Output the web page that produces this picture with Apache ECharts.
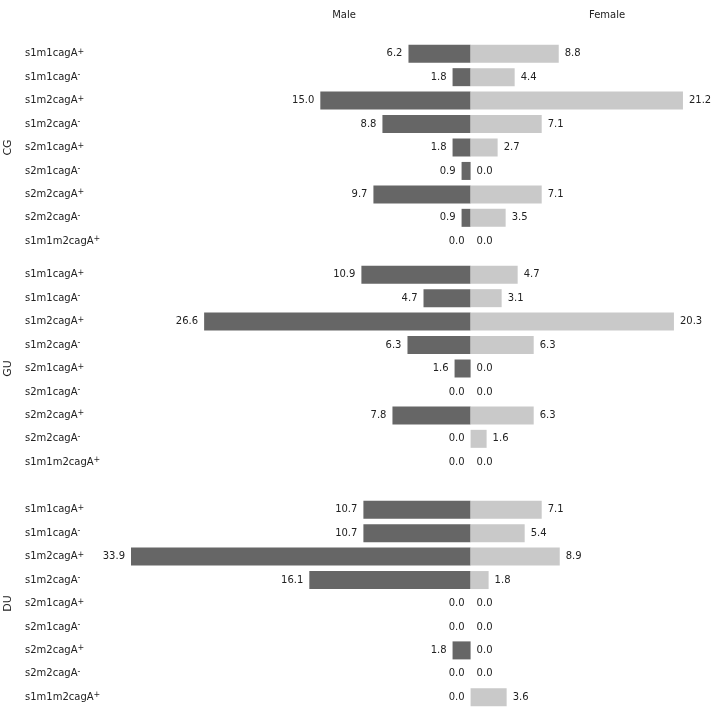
<!DOCTYPE html>
<html>
<head>
<meta charset="utf-8">
<script src="https://cdn.jsdelivr.net/npm/echarts@6/dist/echarts.min.js"></script>
<style>
  html, body { margin: 0; padding: 0; background: #fff; }
  #main { width: 711px; height: 709px; }
</style>
</head>
<body>
<div id="main"></div>
<script>
// genotype rows (same in each group), sup = superscript sign
var genotypes = ['s1m1cagA', 's1m1cagA', 's1m2cagA', 's1m2cagA', 's2m1cagA', 's2m1cagA', 's2m2cagA', 's2m2cagA', 's1m1m2cagA'];
var signs = ['+', '-', '+', '-', '+', '-', '+', '-', '+'];
var groups = ['CG', 'GU', 'DU'];

var cgMale   = [6.2, 1.8, 15.0, 8.8, 1.8, 0.9, 9.7, 0.9, 0.0];
var cgFemale = [8.8, 4.4, 21.2, 7.1, 2.7, 0.0, 7.1, 3.5, 0.0];
var guMale   = [10.9, 4.7, 26.6, 6.3, 1.6, 0.0, 7.8, 0.0, 0.0];
var guFemale = [4.7, 3.1, 20.3, 6.3, 0.0, 0.0, 6.3, 1.6, 0.0];
var duMale   = [10.7, 10.7, 33.9, 16.1, 0.0, 0.0, 1.8, 0.0, 0.0];
var duFemale = [7.1, 5.4, 8.9, 1.8, 0.0, 0.0, 0.0, 0.0, 3.6];

var maleData = [cgMale, guMale, duMale];
var femaleData = [cgFemale, guFemale, duFemale];

var FONT = 'DejaVu Sans';
var categories = genotypes.map(function (g, i) { return g + '{sup|' + signs[i] + '}'; });

var gridTops = [42, 263, 498];
var grids = [], xAxes = [], yAxes = [], series = [];

gridTops.forEach(function (top, k) {
    grids.push({ left: 130, right: 0, top: top, height: 211, containLabel: false, outerBoundsMode: 'none' });
    xAxes.push({
        gridIndex: k, type: 'value', min: -34, max: 24,
        show: false
    });
    yAxes.push({
        gridIndex: k, type: 'category', inverse: true,
        data: categories,
        name: groups[k], nameLocation: 'middle', nameRotate: 90, nameGap: 116,
        nameTextStyle: { fontFamily: FONT, fontSize: 11, color: '#222' },
        axisLine: { show: false }, axisTick: { show: false },
        axisLabel: {
            align: 'left', margin: 105,
            fontFamily: FONT, fontSize: 10, color: '#222', lineHeight: 12,
            formatter: function (v) { return v; },
            rich: {
                sup: { fontFamily: FONT, fontSize: 8, color: '#222', verticalAlign: 'top', lineHeight: 9 }
            }
        }
    });
    series.push({
        name: 'Male', type: 'bar', xAxisIndex: k, yAxisIndex: k,
        data: maleData[k].map(function (v) { return -v; }),
        barWidth: 18, barGap: '-100%',
        itemStyle: { color: '#666666' },
        label: {
            show: true, position: 'left', distance: 6,
            fontFamily: FONT, fontSize: 10, color: '#222',
            formatter: function (p) { return Math.abs(p.value).toFixed(1); }
        }
    });
    series.push({
        name: 'Female', type: 'bar', xAxisIndex: k, yAxisIndex: k,
        data: femaleData[k],
        barWidth: 18, barGap: '-100%',
        itemStyle: { color: '#c9c9c9' },
        label: {
            show: true, position: 'right', distance: 6,
            fontFamily: FONT, fontSize: 10, color: '#222',
            formatter: function (p) { return p.value.toFixed(1); }
        }
    });
});

var chart = echarts.init(document.getElementById('main'));
chart.setOption({
    animation: false,
    title: [
        { text: 'Male', left: 339, top: 5, textAlign: 'center',
          textStyle: { fontFamily: FONT, fontSize: 10, fontWeight: 'normal', color: '#222' } },
        { text: 'Female', left: 602, top: 5, textAlign: 'center',
          textStyle: { fontFamily: FONT, fontSize: 10, fontWeight: 'normal', color: '#222' } }
    ],
    grid: grids,
    xAxis: xAxes,
    yAxis: yAxes,
    series: series
});
</script>
</body>
</html>
